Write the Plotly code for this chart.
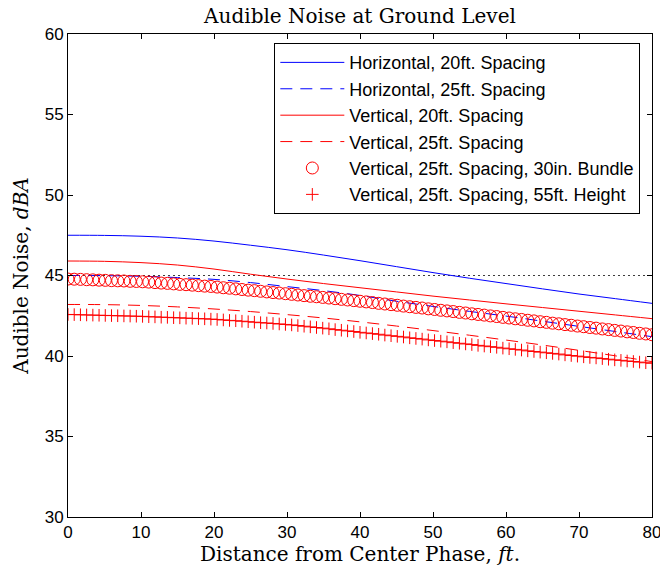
import numpy as np
import plotly.graph_objects as go

# line series sampled every 5 ft
x_line = [0, 5, 10, 15, 20, 25, 30, 35, 40, 45, 50, 55, 60, 65, 70, 75, 80]
h20 = [47.50, 47.49, 47.44, 47.33, 47.14, 46.88, 46.60, 46.27, 45.92, 45.55, 45.18, 44.83, 44.50, 44.17, 43.85, 43.56, 43.27]
h25 = [45.00, 44.99, 44.95, 44.87, 44.76, 44.56, 44.31, 44.06, 43.76, 43.40, 43.08, 42.77, 42.48, 42.16, 41.84, 41.52, 41.20]
v20 = [45.90, 45.88, 45.80, 45.65, 45.40, 45.08, 44.78, 44.50, 44.24, 43.98, 43.72, 43.48, 43.24, 43.01, 42.78, 42.55, 42.32]
v25 = [43.20, 43.19, 43.14, 43.05, 42.92, 42.76, 42.57, 42.36, 42.12, 41.86, 41.58, 41.29, 40.99, 40.68, 40.35, 40.01, 39.65]

# marker series (95 samples from 0 to 80 ft)
x_mark = np.linspace(0, 80, 95)
bundle = [44.78, 44.77, 44.76, 44.74, 44.73, 44.71, 44.70, 44.68, 44.67, 44.66,
          44.64, 44.63, 44.61, 44.59, 44.56, 44.53, 44.51, 44.48, 44.45, 44.43,
          44.40, 44.37, 44.34, 44.32, 44.28, 44.24, 44.21, 44.17, 44.13, 44.09,
          44.06, 44.02, 43.98, 43.94, 43.91, 43.87, 43.83, 43.79, 43.75, 43.71,
          43.68, 43.64, 43.60, 43.56, 43.52, 43.48, 43.44, 43.40, 43.36, 43.32,
          43.27, 43.23, 43.19, 43.15, 43.10, 43.06, 43.02, 42.98, 42.93, 42.89,
          42.84, 42.80, 42.76, 42.71, 42.67, 42.62, 42.58, 42.54, 42.49, 42.45,
          42.40, 42.36, 42.31, 42.27, 42.22, 42.18, 42.13, 42.09, 42.04, 42.00,
          41.95, 41.91, 41.86, 41.82, 41.77, 41.73, 41.68, 41.64, 41.59, 41.55,
          41.50, 41.46, 41.41, 41.37, 41.32]
height55 = [42.58, 42.57, 42.56, 42.55, 42.54, 42.53, 42.52, 42.51, 42.50, 42.49,
            42.48, 42.47, 42.46, 42.44, 42.43, 42.41, 42.40, 42.38, 42.37, 42.35,
            42.34, 42.32, 42.31, 42.29, 42.27, 42.24, 42.21, 42.19, 42.16, 42.13,
            42.10, 42.07, 42.05, 42.02, 41.99, 41.96, 41.93, 41.89, 41.85, 41.81,
            41.77, 41.73, 41.69, 41.64, 41.60, 41.56, 41.52, 41.47, 41.43, 41.39,
            41.35, 41.30, 41.26, 41.22, 41.18, 41.13, 41.09, 41.05, 41.00, 40.96,
            40.92, 40.88, 40.83, 40.79, 40.75, 40.71, 40.66, 40.62, 40.58, 40.54,
            40.49, 40.45, 40.41, 40.37, 40.32, 40.28, 40.24, 40.20, 40.16, 40.12,
            40.07, 40.03, 39.99, 39.95, 39.91, 39.88, 39.84, 39.80, 39.76, 39.73,
            39.69, 39.66, 39.62, 39.58, 39.55]

limit_level = 45
x_ticks = [0, 10, 20, 30, 40, 50, 60, 70, 80]
y_ticks = [30, 35, 40, 45, 50, 55, 60]

BLUE = "rgb(0,0,255)"
RED = "rgb(255,0,0)"
SERIF = "DejaVu Serif, Liberation Serif"
SANS = "Liberation Sans, Arial"

fig = go.Figure()
fig.add_trace(go.Scatter(x=[0, 80], y=[limit_level, limit_level], mode="lines",
                         line=dict(color="rgb(60,60,60)", width=1, dash="2px,3px"),
                         showlegend=False, hoverinfo="skip"))
fig.add_trace(go.Scatter(x=x_line, y=h20, mode="lines", line_shape="spline",
                         line=dict(color=BLUE, width=1), name="Horizontal, 20ft. Spacing"))
fig.add_trace(go.Scatter(x=x_line, y=h25, mode="lines", line_shape="spline",
                         line=dict(color=BLUE, width=1, dash="12px,8px"), name="Horizontal, 25ft. Spacing"))
fig.add_trace(go.Scatter(x=x_line, y=v20, mode="lines", line_shape="spline",
                         line=dict(color=RED, width=1), name="Vertical, 20ft. Spacing"))
fig.add_trace(go.Scatter(x=x_line, y=v25, mode="lines", line_shape="spline",
                         line=dict(color=RED, width=1, dash="12px,8px"), name="Vertical, 25ft. Spacing"))
fig.add_trace(go.Scatter(x=x_mark, y=bundle, mode="markers",
                         marker=dict(symbol="circle-open", size=12, color=RED, line=dict(width=1, color=RED)),
                         name="Vertical, 25ft. Spacing, 30in. Bundle"))
fig.add_trace(go.Scatter(x=x_mark, y=height55, mode="markers",
                         marker=dict(symbol="cross-thin", size=9, color=RED, line=dict(width=1, color=RED)),
                         name="Vertical, 25ft. Spacing, 55ft. Height"))

axis_common = dict(showline=True, linecolor="black", linewidth=1, mirror="ticks",
                   ticks="inside", ticklen=5, tickcolor="black", showgrid=False, zeroline=False,
                   automargin=False, ticklabeloverflow="allow",
                   tickfont=dict(family=SANS, size=17, color="black"))

fig.update_layout(
    width=660, height=569,
    paper_bgcolor="white", plot_bgcolor="white",
    margin=dict(l=68, r=8, t=34, b=52),
    title=dict(text="Audible Noise at Ground Level", x=0.5, xref="paper", xanchor="center",
               y=0.985, yanchor="top",
               font=dict(family=SERIF, size=20, color="black")),
    xaxis=dict(range=[0, 80], tickvals=x_ticks,
               title=dict(text="Distance from Center Phase, <i>ft</i>.", standoff=2,
                          font=dict(family=SERIF, size=20, color="black")),
               **axis_common),
    yaxis=dict(range=[30, 60], tickvals=y_ticks,
               title=dict(text="Audible Noise, <i>dBA</i>", standoff=10,
                          font=dict(family=SERIF, size=20, color="black")),
               **axis_common),
    legend=dict(x=0.98, y=0.981, xanchor="right", yanchor="top",
                bgcolor="white", bordercolor="black", borderwidth=1,
                font=dict(family=SANS, size=18, color="black"),
                tracegroupgap=0, itemwidth=64),
    showlegend=True,
)

fig.write_html("out.html", config={"displayModeBar": False},
               post_script="document.body.style.margin='0';")
